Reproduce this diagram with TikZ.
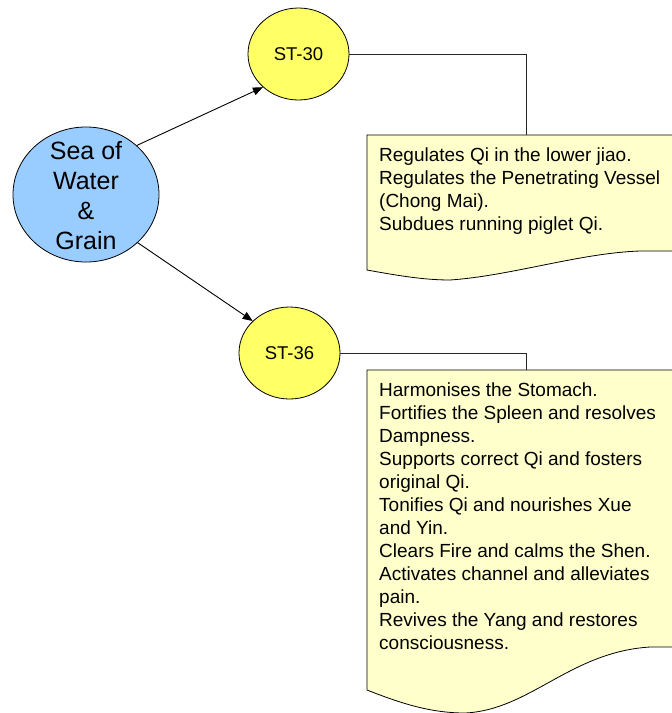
\documentclass[tikz,border=0pt]{standalone}
\usepackage{fontspec}
\setmainfont{Liberation Sans}
\usetikzlibrary{shapes.geometric,arrows.meta}
\definecolor{seablue}{HTML}{99CCFF}
\definecolor{styellow}{HTML}{FFFF66}
\definecolor{docyellow}{HTML}{FFFFCC}
\begin{document}
\begin{tikzpicture}[x=1pt,y=-1pt,
 bigcirc/.style={ellipse,draw=black,line width=0.8pt,fill=seablue,minimum width=146pt,minimum height=135pt,inner sep=0pt},
 seafont/.style={font=\fontsize{25}{30}\selectfont,align=center,inner sep=0pt},
 stcirc/.style={ellipse,draw=black,line width=0.8pt,fill=styellow,minimum width=101pt,minimum height=92pt,inner sep=0pt,font=\fontsize{18.5}{22}\selectfont},
 docshape/.style={draw=black,line width=0.8pt,fill=docyellow},
 doctext/.style={anchor=north west,inner sep=0pt,align=left,font=\fontsize{19}{23}\selectfont},
 arrowline/.style={draw=black,line width=0.9pt,-{Triangle[length=10pt,width=8pt]}},
 connector/.style={draw=black!85,line width=0.8pt}]
\path[use as bounding box] (0,0) rectangle (672,713);
\clip (0,0) rectangle (672,713);
% documents
\path[docshape] (367,135) -- (690,135) -- (690,251) -- (640,251)
  .. controls (580,253) and (510,276) .. (450,280)
  .. controls (425,280) and (400,276) .. (367,270) -- cycle;
\coordinate (d1top) at (526,135);
\node[doctext] (d1text) at (379,148) {Regulates Qi in the lower jiao.\\Regulates the Penetrating Vessel\\(Chong Mai).\\Subdues running piglet Qi.};
\path[docshape] (367,370) -- (690,370) -- (690,647) -- (650,647)
  .. controls (570,652) and (530,710) .. (465,713)
  .. controls (430,713) and (400,703) .. (367,690) -- cycle;
\coordinate (d2top) at (526,370);
\node[doctext] (d2text) at (379,383) {Harmonises the Stomach.\\Fortifies the Spleen and resolves\\Dampness.\\Supports correct Qi and fosters\\original Qi.\\Tonifies Qi and nourishes Xue\\and Yin.\\Clears Fire and calms the Shen.\\Activates channel and alleviates\\pain.\\Revives the Yang and restores\\consciousness.};
% circles
\node[bigcirc] (sea) at (86,194.5) {};
\node[seafont] (seatext) at (86,196) {Sea of\\Water\\\&\\Grain};
\node[stcirc] (st30) at (298.5,54) {ST-30};
\node[stcirc] (st36) at (289.5,353) {ST-36};
% connectors
\draw[connector] (st30.east) -| (d1top);
\draw[connector] (st36.east) -| (d2top);
\draw[arrowline] (sea.44) -- (st30.223);
\draw[arrowline] (sea.-43) -- (st36.139);
\end{tikzpicture}
\end{document}
